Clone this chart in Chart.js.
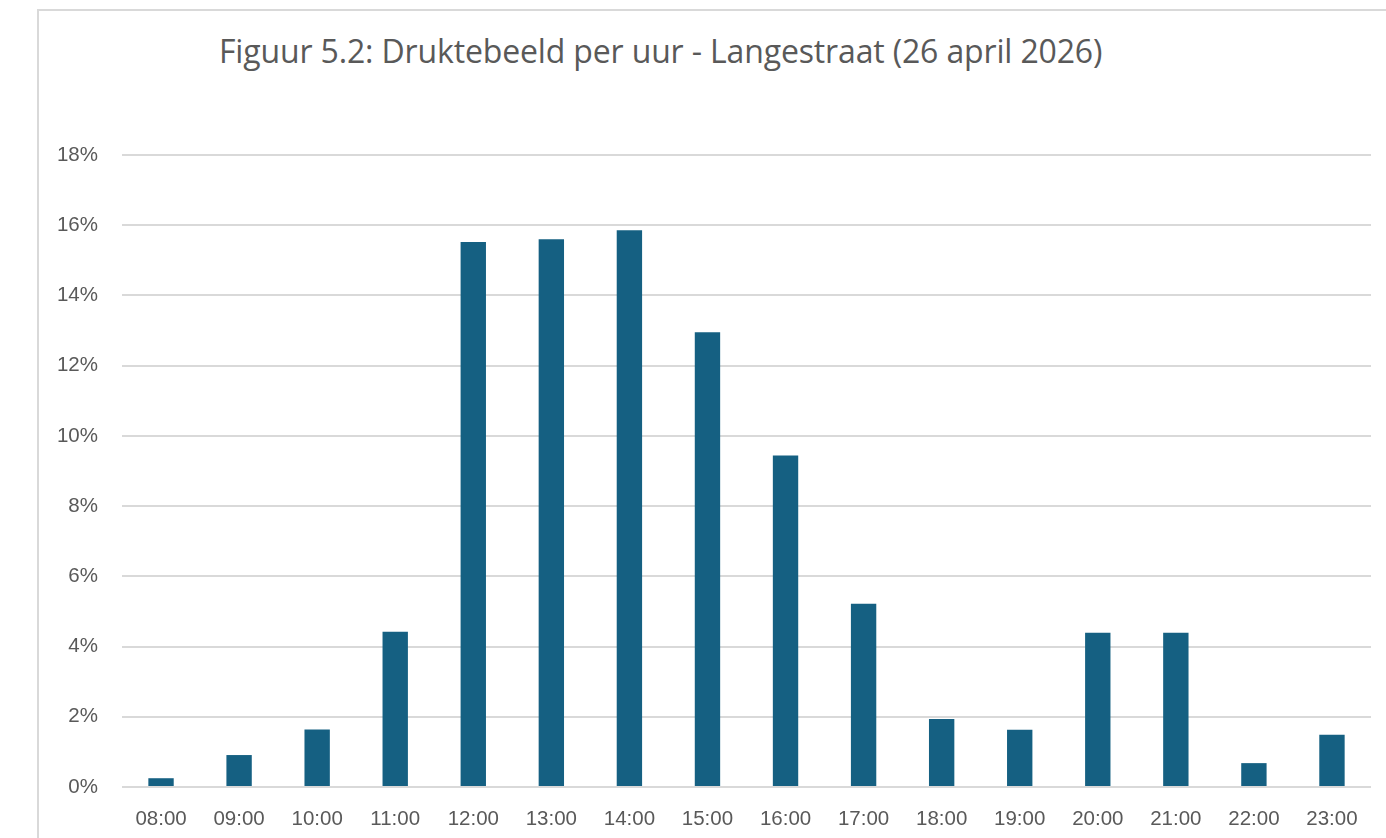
<!DOCTYPE html>
<html>
<head>
<meta charset="utf-8">
<script src="https://cdn.jsdelivr.net/npm/chart.js@4.4.1/dist/chart.umd.min.js"></script>
<style>
  html, body { margin: 0; padding: 0; background: #fff; overflow: hidden; }
  #frame {
    position: absolute; left: 37px; top: 9px; width: 1400px; height: 900px;
    border-left: 2px solid #d9d9d9; border-top: 2px solid #d9d9d9;
  }
  #titel {
    position: absolute; left: 219px; top: 29px; margin: 0;
    font-family: "Open Sans", sans-serif; font-weight: 400; font-size: 32px;
    color: #595959; white-space: nowrap; letter-spacing: -0.15px;
  }
  #grafiekDrukte { position: absolute; left: 0; top: 0; }
</style>
</head>
<body>
<div id="frame"></div>
<h1 id="titel">Figuur 5.2: Druktebeeld per uur - Langestraat (26 april 2026)</h1>
<canvas id="grafiekDrukte" width="1386" height="838"></canvas>
<script>
// Uren van de dag (categorieën)
const uren = ['08:00', '09:00', '10:00', '11:00', '12:00', '13:00', '14:00', '15:00',
              '16:00', '17:00', '18:00', '19:00', '20:00', '21:00', '22:00', '23:00'];

// Aandeel bezoekers per uur (%)
const aandeelPerUur = [0.25, 0.91, 1.64, 4.42, 15.52, 15.6, 15.86, 12.95,
                       9.44, 5.22, 1.94, 1.63, 4.39, 4.39, 0.68, 1.49];

// As-instellingen
const yMin = 0;
const yMax = 18;
const yStap = 2;

const grijsTekst = '#595959';
const grijsLijn = '#d9d9d9';

const ctx = document.getElementById('grafiekDrukte').getContext('2d');
window.grafiekDrukte = new Chart(ctx, {
    type: 'bar',
    data: {
        labels: uren,
        datasets: [{
            label: 'Druktebeeld',
            data: aandeelPerUur,
            backgroundColor: '#156082',
            borderWidth: 0,
            barPercentage: 0.325,
            categoryPercentage: 1
        }]
    },
    options: {
        responsive: false, animation: false,
        layout: { padding: { left: 50, right: 15, top: 155, bottom: 0 } },
        plugins: {
            legend: { display: false },
            tooltip: { enabled: false }
        },
        scales: {
            x: {
                grid: { display: false },
                border: { display: false },
                ticks: {
                    color: grijsTekst, padding: 12, maxRotation: 0,
                    font: { family: 'Liberation Sans', size: 20.5 }
                },
                afterFit: scale => { scale.height = 51; }
            },
            y: {
                min: yMin, max: yMax,
                grid: { color: grijsLijn, lineWidth: 2, drawTicks: false },
                border: { display: false },
                ticks: {
                    stepSize: yStap, color: grijsTekst, padding: 24,
                    font: { family: 'Liberation Sans', size: 20.5 },
                    callback: v => v + '%'
                },
                afterFit: scale => { scale.width = 72; }
            }
        }
    }
});
</script>
</body>
</html>
